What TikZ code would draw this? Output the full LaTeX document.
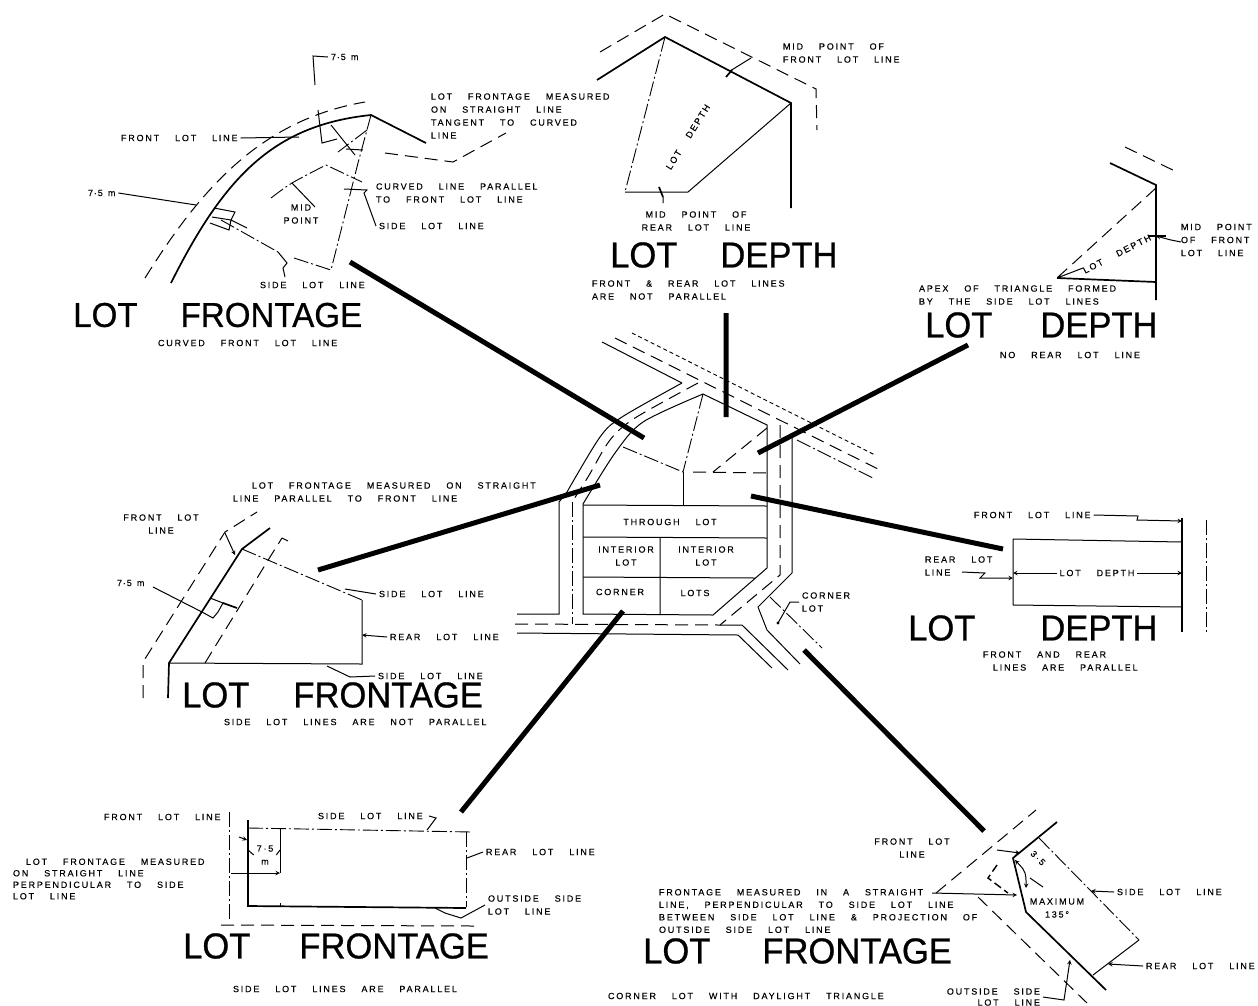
\documentclass[tikz,border=0pt]{standalone}
\usepackage{fontspec}
\newfontfamily\lblfont[LetterSpace=20,WordSpace=3.7,FakeBold=0.25]{Liberation Sans}
\newfontfamily\dimfont[LetterSpace=10,WordSpace=1.5,FakeBold=0.25]{Liberation Sans}
\newfontfamily\bigfont[FakeStretch=0.96,FakeBold=0.7]{Liberation Sans}
\begin{document}
\begin{tikzpicture}[x=1pt, y=-1pt, >=stealth,
    lbl/.style={inner sep=0pt, outer sep=3pt, xshift=-3pt, anchor=west, align=left, font=\lblfont\fontsize{9}{13}\selectfont},
    ctr/.style={lbl, xshift=3pt, anchor=center, align=center},
    dim/.style={lbl, font=\dimfont\fontsize{9}{13}\selectfont},
    bigtitle/.style={inner sep=0pt, anchor=west, font=\bigfont\fontsize{36}{36}\selectfont},
    lotline/.style={line width=1.7pt},
    thinline/.style={line width=1pt},
    dashline/.style={line width=1pt, dash pattern=on 13pt off 7pt},
    dashdotline/.style={line width=0.9pt, dash pattern=on 15pt off 3pt on 2pt off 3pt},
    arm/.style={line width=5pt}
]
\useasboundingbox (0, 0) rectangle (1258, 1005);
\node[dim] (m1) at (331, 57) {7·5 m};
\node[lbl] (t1) at (431, 116) {LOT FRONTAGE MEASURED\\ON STRAIGHT LINE\\TANGENT TO CURVED\\LINE};
\node[lbl] (f1) at (121, 138) {FRONT LOT LINE};
\node[dim] (m2) at (88, 193) {7·5 m};
\node[ctr] (mp) at (301, 214) {MID\\POINT};
\node[lbl] (cv) at (376, 193) {CURVED LINE PARALLEL\\TO FRONT LOT LINE};
\node[lbl] (s1) at (379, 226) {SIDE LOT LINE};
\node[lbl] (s2) at (260, 285) {SIDE LOT LINE};
\node[bigtitle, font=\bigfont\fontsize{34.5}{36}\selectfont] (title1) at (73, 315) {LOT\hspace{43pt}FRONTAGE};
\node[lbl] (sub1) at (158, 343) {CURVED FRONT LOT LINE};
\node[lbl] (mf) at (783, 53) {MID POINT OF\\FRONT LOT LINE};
\node[ctr] (mr) at (696, 221) {MID POINT OF\\REAR LOT LINE};
\node[ctr, rotate=58] (dp1) at (688, 137) {LOT DEPTH};
\node[bigtitle] (title2) at (610, 255) {LOT\hspace{43pt}DEPTH};
\node[lbl] (sub2) at (592, 290) {FRONT \& REAR LOT LINES\\ARE NOT PARALLEL};
\node[ctr, rotate=27] (dp2) at (1117, 254) {LOT DEPTH};
\node[lbl] (mf2) at (1181, 240) {MID POINT\\OF FRONT\\LOT LINE};
\node[lbl] (ap) at (919, 295) {APEX OF TRIANGLE FORMED\\BY THE SIDE LOT LINES};
\node[bigtitle] (title3) at (925, 325) {LOT\hspace{48pt}DEPTH};
\node[lbl] (sub3) at (1000, 355) {NO REAR LOT LINE};
\node[ctr] (thr) at (670, 522) {THROUGH LOT};
\node[ctr] (in1) at (626, 556) {INTERIOR\\LOT};
\node[ctr] (in2) at (706, 556) {INTERIOR\\LOT};
\node[ctr] (cr) at (620, 592) {CORNER};
\node[ctr] (lt) at (695, 593) {LOTS};
\node[lbl] (cl) at (802, 602) {CORNER\\LOT};
\node[lbl] (pm) at (233, 492) {\hspace*{19pt}LOT FRONTAGE MEASURED ON STRAIGHT\\LINE PARALLEL TO FRONT LINE};
\node[ctr] (f2) at (161, 524) {FRONT LOT\\LINE};
\node[dim] (m3) at (117, 583) {7·5 m};
\node[lbl] (s3) at (379, 594) {SIDE LOT LINE};
\node[lbl] (r1) at (390, 637) {REAR LOT LINE};
\node[lbl] (s4) at (378, 676) {SIDE LOT LINE};
\node[bigtitle] (title4) at (182, 695) {LOT\hspace{44pt}FRONTAGE};
\node[lbl] (sub4) at (224, 722) {SIDE LOT LINES ARE NOT PARALLEL};
\node[lbl] (f3) at (974, 515) {FRONT LOT LINE};
\node[lbl] (r2) at (925, 566) {REAR LOT\\LINE};
\node[ctr] (dp3) at (1097, 573) {LOT DEPTH};
\node[bigtitle] (title5) at (908, 628) {LOT\hspace{65pt}DEPTH};
\node[lbl] (sub5) at (983, 661) {FRONT AND REAR\\\hspace*{10pt}LINES ARE PARALLEL};
\node[lbl] (f4) at (104, 817) {FRONT LOT LINE};
\node[lbl] (s5) at (318, 816) {SIDE LOT LINE};
\node[lbl] (r3) at (486, 852) {REAR LOT LINE};
\node[lbl] (os) at (488, 905) {OUTSIDE SIDE\\LOT LINE};
\node[lbl, font=\lblfont\fontsize{9}{11.5}\selectfont] (pp) at (13, 879) {\hspace*{13pt}LOT FRONTAGE MEASURED\\ON STRAIGHT LINE\\PERPENDICULAR TO SIDE\\LOT LINE};
\node[ctr] (m4) at (265, 855) {7·5\\m};
\node[bigtitle] (title6) at (183, 946) {LOT\hspace{49pt}FRONTAGE};
\node[lbl] (sub6) at (233, 989) {SIDE LOT LINES ARE PARALLEL};
\node[ctr] (f5) at (912, 848) {FRONT LOT\\LINE};
\node[lbl, font=\lblfont\fontsize{9}{12.5}\selectfont] (fm) at (659, 911) {FRONTAGE MEASURED IN A STRAIGHT\\LINE, PERPENDICULAR TO SIDE LOT LINE\\BETWEEN SIDE LOT LINE \& PROJECTION OF\\OUTSIDE SIDE LOT LINE};
\node[ctr, rotate=-45] (m5) at (1038, 858) {3·5};
\node[ctr] (mx) at (1057, 908) {MAXIMUM\\135°};
\node[lbl] (s6) at (1117, 892) {SIDE LOT LINE};
\node[lbl] (r4) at (1146, 966) {REAR LOT LINE};
\node[lbl, xshift=6pt, anchor=east, align=right, font=\lblfont\fontsize{9}{11}\selectfont] (os2) at (1040, 997) {OUTSIDE SIDE\\LOT LINE};
\node[bigtitle] (title7) at (643, 951) {LOT\hspace{52pt}FRONTAGE};
\node[lbl] (sub7) at (608, 996) {CORNER LOT WITH DAYLIGHT TRIANGLE};
\coordinate (hub1) at (644, 438);
\coordinate (hub2) at (726, 417);
\coordinate (hub3) at (758, 453);
\coordinate (hub4) at (600, 485);
\coordinate (hub5) at (751, 496);
\coordinate (hub6) at (623, 611);
\coordinate (hub7) at (804, 650);
\coordinate (end1) at (350, 262);
\coordinate (end2) at (726, 313);
\coordinate (end3) at (968, 345);
\coordinate (end4) at (318, 570);
\coordinate (end5) at (1003, 549);
\coordinate (end6) at (461, 812);
\coordinate (end7) at (984, 831);
\draw[arm] (hub1) -- (end1) (hub2) -- (end2) (hub3) -- (end3) (hub4) -- (end4)
    (hub5) -- (end5) (hub6) -- (end6) (hub7) -- (end7);
\draw[lotline] (171, 283) .. controls (225, 175) and (275, 125) .. (371, 115) -- (426, 143);
\draw[dashline] (145, 278) .. controls (200, 190) and (260, 120) .. (365, 102);
\draw[dashdotline] plot[smooth] coordinates {(271, 198) (292, 183) (326, 165)} -- (362, 182);
\draw[dashdotline] (371, 115) -- (358, 163) -- (331, 270) -- (294, 258);
\draw[dashdotline] (367, 130) -- (338, 152) (221, 220) -- (278, 252);
\draw[thinline] (315, 85) -- (313, 56) -- (m1.west);
\draw[thinline] (318, 110) -- (322, 143) -- (337, 139) (331, 125) -- (355, 155) (346, 149) -- (363, 150);
\draw[dashline] (385, 153) -- (453, 162) -- (506, 133);
\draw[thinline] (292, 183) -- (315, 207);
\draw[thinline] (f1.east) -- (299, 137);
\draw[thinline] (m2.east) -- (196, 205) (214, 208) -- (235, 212) -- (231, 220) -- (247, 228) (212, 217) -- (231, 220) -- (229, 230) -- (210, 223);
\draw[thinline] (344, 189) -- (367, 190) -- (364, 193) -- (s1.west);
\draw[thinline] (278, 252) -- (287, 263) -- (283, 268) -- (285, 277);
\draw[dashline] (600, 52) -- (665, 14) -- (816, 89) -- (817, 130);
\draw[lotline] (597, 80) -- (665, 37) -- (791, 103) -- (791, 208);
\draw[dashdotline] (665, 37) -- (625, 192);
\draw[thinline] (625, 192) -- (688, 192) -- (791, 103);
\draw[lotline] (726, 77) -- (732, 70) (659, 187) -- (663, 197);
\draw[thinline] (730, 71) -- (751, 58) (663, 197) -- (663, 203);
\draw[lotline] (1110, 163) -- (1156, 185) -- (1156, 300);
\draw[dashline] (1125, 147) -- (1179, 173);
\draw[dashline] (1156, 188) -- (1057, 278);
\draw[lotline] (1057, 278) -- (1156, 282);
\draw[->, thinline] (1083, 268) -- (1057, 278);
\draw[->, thinline] (1181, 242) -- (1171, 240) -- (1156, 236);
\draw[lotline] (1148, 236) -- (1166, 236);
\draw[thinline] (602, 342) -- (682, 383);
\draw[thinline] plot[smooth] coordinates {(682, 383) (622, 417) (600, 437) (567, 492)} -- (559, 502) -- (559, 614) -- (517, 614);
\draw[dashline] (515, 624) -- (720, 625) -- (780, 575) -- (780, 423);
\draw[dashdotline] (572, 502) -- (572, 624);
\draw[dashline] plot[smooth] coordinates {(698, 383) (635, 418) (610, 440) (588, 477) (572, 502)};
\draw[dashline] (615, 338) -- (880, 470);
\draw[dashdotline, dash pattern=on 4pt off 3pt] (632, 333) -- (875, 455);
\draw[dashdotline] (797, 440) -- (873, 478);
\draw[thinline] plot[smooth] coordinates {(583, 504) (615, 453) (643, 422) (703, 394)} -- (767, 425) -- (767, 568) -- (713, 615) -- (583, 614) -- cycle;
\draw[thinline] (583, 505) -- (767, 506) (583, 537) -- (767, 538) (583, 577) -- (755, 578) (660, 537) -- (660, 615);
\draw[dashdotline] (703, 394) -- (683, 472);
\draw[thinline] (683, 472) -- (683, 505);
\draw[dashdotline] (623, 447) -- (683, 472);
\draw[dashline] (693, 472) -- (768, 473) (767, 428) -- (713, 472);
\draw[thinline] (792, 437) -- (792, 573) -- (758, 607) -- (767, 630) -- (800, 664);
\draw[thinline] (517, 633) -- (738, 635) -- (772, 668) (720, 625) -- (742, 625) -- (788, 670);
\draw[dashdotline] (770, 597) -- (822, 648);
\draw[thinline] (cl.west) -- (790, 602) -- (778, 623);
\fill (778, 623) circle (1.6pt);
\draw[dashline] (143, 698) -- (143, 662) -- (225, 532) -- (257, 512);
\draw[lotline] (168, 698) -- (169, 663) -- (242, 549) -- (270, 528);
\draw[dashline] (205, 663) -- (270, 557) -- (282, 538);
\draw[thinline] (282, 538) -- (288, 541);
\draw[dashdotline] (242, 549) -- (362, 600);
\draw[thinline] (362, 600) -- (362, 664) -- (169, 663);
\draw[->, thinline] (225, 533) -- (235, 555);
\draw[thinline] (153, 587) -- (202, 612) -- (213, 618) -- (218, 612) -- (223, 603) -- (210, 598);
\draw[lotline] (223, 603) -- (237, 608);
\draw[thinline] (s3.west) -- (345, 589);
\draw[->, thinline] (r1.west) -- (362, 635);
\draw[thinline] (s4.west) -- (350, 677) -- (327, 666);
\draw[lotline] (1182, 518) -- (1182, 632);
\draw[dashdotline] (1206, 520) -- (1206, 633);
\draw[thinline] (1013, 539) -- (1182, 542) (1013, 605) -- (1182, 607) (1013, 539) -- (1013, 605);
\draw[->, thinline] (dp3.west) -- (1013, 573);
\draw[->, thinline] (dp3.east) -- (1182, 573);
\draw[->, thinline] (f3.east) -- (1138, 516) -- (1137, 520) -- (1182, 521);
\draw[->, thinline] (962, 572) -- (985, 573) -- (980, 578) -- (1013, 578);
\draw[dashdotline] (229, 812) -- (229, 920);
\draw[lotline] (248, 820) -- (248, 906) -- (466, 908);
\draw[dashdotline] (248, 828) -- (472, 832);
\draw[dashdotline] (466, 832) -- (466, 907);
\draw[dashline] (221, 925) -- (474, 926);
\draw[thinline] (280, 828) -- (280, 873) (280, 903) -- (280, 907);
\draw[thinline] (248, 850) -- (m4.west) (m4.east) -- (280, 850);
\draw[->, thinline] (231, 873) -- (280, 873);
\draw[->, thinline] (239, 837) -- (247, 840);
\draw[thinline] (427, 830) -- (436, 818) -- (429, 816);
\draw[thinline] (467, 858) -- (r3.west);
\draw[thinline] (435, 908) -- (445, 913) -- (461, 918) -- (os.west);
\draw[dashline] (936, 893) -- (1036, 810);
\draw[lotline] (1057, 822) -- (1013, 858) -- (1026, 912) -- (1106, 990);
\draw[dashline] (978, 897) -- (1087, 1003);
\draw[dashdotline] (1039, 838) -- (1139, 940);
\draw[thinline] (1139, 940) -- (1093, 975);
\draw[dashline, line width=1.4pt, dash pattern=on 8pt off 4pt] (997, 865) -- (988, 878) -- (1008, 893);
\draw[->, thinline] (997, 850) -- (1020, 853);
\draw[thinline] (1030, 878) -- (1043, 887);
\draw[<->, thinline] plot[smooth] coordinates {(1015, 860) (1025, 873) (1026, 888)};
\draw[->, thinline] (932, 893) -- (1017, 895);
\draw[->, thinline] (s6.west) -- (1091, 891);
\draw[->, thinline] (r4.west) -- (1108, 964);
\draw[->, thinline] (os2.east) -- (1064, 1000) -- (1070, 960);
\end{tikzpicture}
\end{document}
